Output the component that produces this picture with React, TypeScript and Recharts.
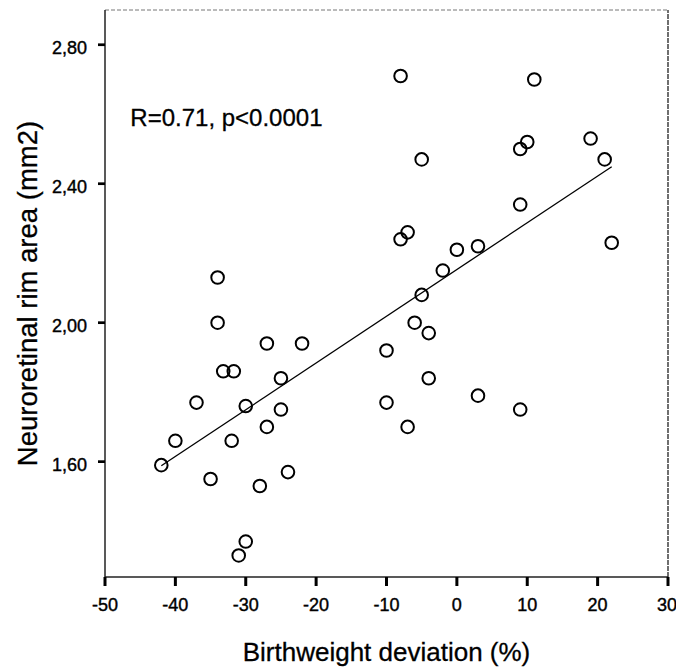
import React from 'react'
import {
  ScatterChart,
  Scatter,
  XAxis,
  YAxis,
  ReferenceLine,
  ReferenceDot,
} from 'recharts'

// birthweight deviation (%) and neuroretinal rim area (mm2)
const birthweightDev = [
  -8, 11, 19, 10, 9, 21, -5, 9, 22, -7, -8, 3, 0, -2, -5, -6, -4, -10, -4, 3, -10, 9, -7,
  -34, -34, -27, -22, -33.2, -31.7, -25, -37, -30, -25, -27, -40, -32, -42, -35, -24, -28, -30, -31,
]
const rimArea = [
  2.71, 2.7, 2.53, 2.52, 2.5, 2.47, 2.47, 2.34, 2.23, 2.26, 2.24, 2.22, 2.21, 2.15, 2.08, 2.0, 1.97, 1.92, 1.84, 1.79, 1.77, 1.75, 1.7,
  2.13, 2.0, 1.94, 1.94, 1.86, 1.86, 1.84, 1.77, 1.76, 1.75, 1.7, 1.66, 1.66, 1.59, 1.55, 1.57, 1.53, 1.37, 1.33,
]

// regression line end points
const fitX = [-42, 22]
const fitY = [1.588, 2.449]

const xTicks = [-50, -40, -30, -20, -10, 0, 10, 20, 30]
const yTicks = [1.6, 2.0, 2.4, 2.8]

const FONT = '"Liberation Sans", Arial, Helvetica, sans-serif'

const points = birthweightDev.map((x, i) => ({ x, y: rimArea[i] }))

function Ring(props: any) {
  return <circle cx={props.cx} cy={props.cy} r={6.3} fill="none" stroke="#000" strokeWidth={2} />
}

function XTitle(props: any) {
  const vb = props.viewBox
  return (
    <text x={vb.x + vb.width / 2} y={661} textAnchor="middle" fontSize={26} fontFamily={FONT} fill="#000" stroke="#000" strokeWidth={0.3}>
      Birthweight deviation (%)
    </text>
  )
}

function YTitle(props: any) {
  const vb = props.viewBox
  const cy = vb.y + vb.height / 2
  return (
    <text
      x={36.5}
      y={cy}
      transform={`rotate(-90 36.5 ${cy})`}
      textAnchor="middle"
      fontSize={27.5}
      fontFamily={FONT}
      fill="#000"
      stroke="#000"
      strokeWidth={0.3}
    >
      Neuroretinal rim area (mm2)
    </text>
  )
}

function Annotation(props: any) {
  return (
    <text x={props.cx} y={props.cy} fontSize={24} fontFamily={FONT} fill="#000" stroke="#000" strokeWidth={0.3}>
      R=0.71, p&lt;0.0001
    </text>
  )
}

const comma = (v: number) => v.toFixed(2).replace('.', ',')

const tickStyle = { fontSize: 18, fill: '#000', fontFamily: FONT, stroke: '#000', strokeWidth: 0.4 }

export default function App() {
  return (
    <div style={{ position: 'absolute', left: 0, top: 0, background: '#fff' }}>
      <ScatterChart width={676} height={669} margin={{ top: 10, right: 8, bottom: 0, left: 0 }}>
        <XAxis
          type="number"
          dataKey="x"
          domain={[-50, 30]}
          ticks={xTicks}
          allowDataOverflow
          height={92}
          tickSize={9}
          tickMargin={12}
          axisLine={{ stroke: '#222', strokeWidth: 1.3 }}
          tickLine={{ stroke: '#000', strokeWidth: 3 }}
          tick={tickStyle}
          label={<XTitle />}
        />
        <YAxis
          type="number"
          dataKey="y"
          domain={[1.268, 2.9]}
          ticks={yTicks}
          allowDataOverflow
          width={105}
          tickSize={7}
          tickMargin={11}
          tickFormatter={comma}
          axisLine={{ stroke: '#222', strokeWidth: 1.5 }}
          tickLine={{ stroke: '#000', strokeWidth: 2.7 }}
          tick={{ ...tickStyle, dy: 3 }}
          label={<YTitle />}
        />
        <ReferenceLine y={2.9} stroke="#777" strokeWidth={1} strokeDasharray="4 2" />
        <ReferenceLine x={30} stroke="#222" strokeWidth={1.3} strokeDasharray="5 1" />
        <ReferenceLine
          segment={[
            { x: fitX[0], y: fitY[0] },
            { x: fitX[1], y: fitY[1] },
          ]}
          stroke="#000"
          strokeWidth={1.3}
        />
        <Scatter data={points} shape={<Ring />} isAnimationActive={false} />
        <ReferenceDot x={-46.4} y={2.565} r={0} shape={<Annotation />} />
      </ScatterChart>
    </div>
  )
}
